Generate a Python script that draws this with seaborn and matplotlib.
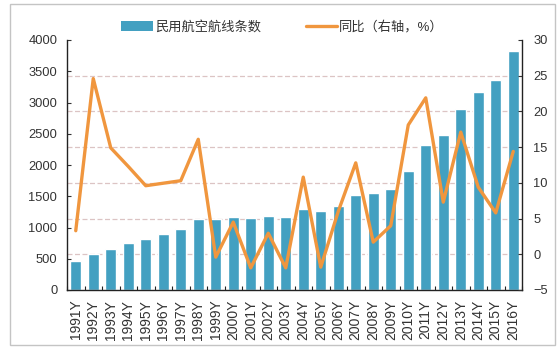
import numpy as np
import pandas as pd
import matplotlib
matplotlib.use("Agg")
import matplotlib.pyplot as plt
import seaborn as sns
from matplotlib.patches import Rectangle, Patch
from matplotlib.lines import Line2D

# ---- data ----
years = ["1991Y", "1992Y", "1993Y", "1994Y", "1995Y", "1996Y", "1997Y", "1998Y",
         "1999Y", "2000Y", "2001Y", "2002Y", "2003Y", "2004Y", "2005Y", "2006Y",
         "2007Y", "2008Y", "2009Y", "2010Y", "2011Y", "2012Y", "2013Y", "2014Y",
         "2015Y", "2016Y"]
routes = [470, 577, 663, 748, 812, 892, 978, 1133, 1133, 1176, 1155, 1192, 1171,
          1293, 1261, 1352, 1524, 1556, 1609, 1903, 2315, 2486, 2903, 3170, 3357, 3827]
growth = [3.3, 24.6, 14.9, 12.3, 9.6, 9.95, 10.3, 16.1, -0.4, 4.5, -1.9, 2.95, -1.9,
          10.8, -1.8, 6.0, 12.8, 1.7, 4.0, 18.1, 21.9, 7.3, 17.1, 9.4, 5.8, 14.4]
left_ticks = [0, 500, 1000, 1500, 2000, 2500, 3000, 3500, 4000]
right_ticks = [-5, 0, 5, 10, 15, 20, 25, 30]
bar_label = "民用航空航线条数"
line_label = "同比（右轴，%）"

BAR_C = "#43A0C1"
LINE_C = "#F0963E"
TXT_C = "#333333"

sns.set_theme(style="white")
plt.rcParams["font.family"] = ["Liberation Sans", "Noto Sans CJK SC", "DejaVu Sans"]

fig = plt.figure(figsize=(5.57, 3.51), dpi=100)
ax = fig.add_axes([67 / 557, 1 - 290 / 351, (522 - 67) / 557, (290 - 40) / 351])

df = pd.DataFrame({"year": years, "routes": routes, "growth": growth})
sns.barplot(data=df, x="year", y="routes", color=BAR_C, saturation=1,
            width=0.64, ax=ax, zorder=2)
ax.set_ylim(left_ticks[0], left_ticks[-1])
ax.set_yticks(left_ticks)
ax.set_xlim(-0.5, len(years) - 0.5)
ax.set_xlabel("")
ax.set_ylabel("")

# gridlines at right-axis tick levels (drawn behind bars)
lo, hi = right_ticks[0], right_ticks[-1]
grid_pos = [left_ticks[-1] * (v - lo) / (hi - lo) for v in right_ticks]
ax.set_yticks(grid_pos, minor=True)
ax.grid(False)
ax.grid(which="minor", axis="y", color="#dcc4c4", linestyle=(0, (4, 2)), linewidth=0.9)
ax.set_axisbelow(True)

ax2 = ax.twinx()
sns.lineplot(x=np.arange(len(years)), y=growth, ax=ax2, color=LINE_C,
             linewidth=2.4, zorder=5)
ax2.set_ylim(lo, hi)
ax2.set_yticks(right_ticks)
ax2.grid(False)
ax2.set_ylabel("")

# spines
for a in (ax, ax2):
    a.spines["top"].set_visible(False)
    for s in a.spines.values():
        s.set_color("#222222")
        s.set_linewidth(1.0)
ax.spines["right"].set_visible(False)
ax2.spines["left"].set_visible(False)
ax2.spines["bottom"].set_visible(False)

# ticks
ax.tick_params(axis="y", which="major", direction="in", length=3, width=0.8,
               labelsize=9.3, pad=7, colors=TXT_C, left=True)
ax.tick_params(axis="y", which="minor", length=0, left=False)
ax2.tick_params(axis="y", direction="in", length=3, width=0.8, labelsize=9.3,
                pad=8, colors=TXT_C, right=True)
ax.tick_params(axis="x", which="major", length=0, labelrotation=90,
               labelsize=10, pad=7, colors=TXT_C)
ax.set_xticks(np.arange(-0.5, len(years), 1), minor=True)
ax.tick_params(axis="x", which="minor", direction="in", length=3, width=0.8,
               bottom=True, color="#222222")

# legend
handles = [Patch(facecolor=BAR_C, edgecolor="none"),
           Line2D([], [], color=LINE_C, linewidth=2.4)]
fig.legend(handles, [bar_label, line_label], ncol=2, loc="upper center",
           bbox_to_anchor=(0.507, 0.975), frameon=False, fontsize=9.5,
           handlelength=2.4, handletextpad=0.15, columnspacing=3.4,
           labelcolor=TXT_C)

# outer frame
fig.patches.append(Rectangle((10 / 557, 1 - 345 / 351), 545 / 557, 341 / 351,
                             transform=fig.transFigure, fill=False,
                             edgecolor="#c4c4c4", linewidth=1.0))

fig.savefig("out.png", dpi=100)
